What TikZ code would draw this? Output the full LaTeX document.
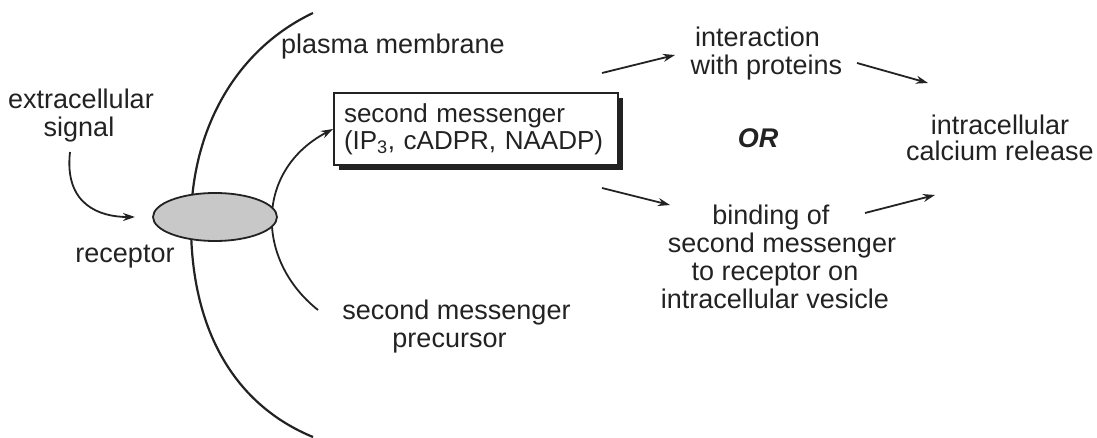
\documentclass[tikz,border=0pt]{standalone}
\usepackage{fontspec}
\setmainfont{Liberation Sans}
\usetikzlibrary{arrows.meta,shapes.geometric,shadows}
\definecolor{ink}{RGB}{34,34,34}
\definecolor{recfill}{RGB}{200,200,200}
\begin{document}
\begin{tikzpicture}[x=1pt,y=-1pt,
  lbl/.style={align=center,text=ink,inner sep=0pt,font=\fontsize{27}{28}\selectfont},
  arr/.style={draw=ink,line width=1.8pt,-{Stealth[length=12pt,width=8pt]}},
  memb/.style={draw=ink,line width=2.2pt},
  smbox/.style={draw=ink,line width=2pt,fill=white,minimum width=284pt,minimum height=72pt,
    text width=264pt,inner xsep=10pt,align=left,text=ink,font=\fontsize{26}{27}\selectfont,
    drop shadow={shadow xshift=5pt,shadow yshift=-5pt,fill=ink,opacity=1}},
  recep/.style={ellipse,draw=ink,line width=1.8pt,fill=recfill,minimum width=124pt,minimum height=48pt,inner sep=0pt}]
\useasboundingbox (0,0) rectangle (1097,438);

% plasma membrane
\coordinate (mtop) at (313,13);
\coordinate (mmid) at (191,220);
\coordinate (mbot) at (313,437);
\draw[memb] (mtop) .. controls (235,50) and (192,130) .. (mmid)
                   .. controls (190,330) and (235,405) .. (mbot);

% labels
\node[lbl] (sig) at (81,116) {extracellular\\\hspace*{-4pt}signal};
\node[lbl] (pm) at (393,47) {plasma membrane};
\node[lbl] (rlab) at (125,257) {receptor};
\node[lbl] (prec) at (453,327) {second messenger\hspace*{-7pt}\\precursor\hspace*{7pt}};
\node[lbl] (inter) at (762,54) {interaction\hspace*{9pt}\\\hspace*{9pt}with proteins};
\node[lbl,font=\fontsize{27}{28}\selectfont\bfseries\itshape] (or) at (758,138) {OR};
\node[lbl] (bind) at (775,257) {binding of\hspace*{8pt}\\\hspace*{14pt}second messenger\\to receptor on\hspace*{11pt}\\intracellular vesicle};
\node[lbl,font=\fontsize{27}{26}\selectfont] (ca) at (1000,138) {intracellular\\calcium release};

% second messenger box
\node[smbox] (sm) at (476,129) {second messenger\\(IP\textsubscript{3}, cADPR, NAADP)};

% precursor pathway to the second messenger
\coordinate (p0) at (318,310);
\draw[arr] (p0) .. controls (255,260) and (255,170) .. (sm.west);

% extracellular signal to receptor
\coordinate (s0) at (70,152);
\coordinate (s1) at (135,217);
\draw[arr] (s0) .. controls (64,205) and (100,217) .. (s1);

% receptor
\node[recep] (rec) at (215,217) {};

% downstream arrows
\coordinate (a1s) at (602,73);  \coordinate (a1e) at (675,55);
\coordinate (a2s) at (857,63);  \coordinate (a2e) at (928,83);
\coordinate (a3s) at (602,188); \coordinate (a3e) at (670,205);
\coordinate (a4s) at (865,213); \coordinate (a4e) at (935,195);
\draw[arr] (a1s) -- (a1e);
\draw[arr] (a2s) -- (a2e);
\draw[arr] (a3s) -- (a3e);
\draw[arr] (a4s) -- (a4e);
\end{tikzpicture}
\end{document}
